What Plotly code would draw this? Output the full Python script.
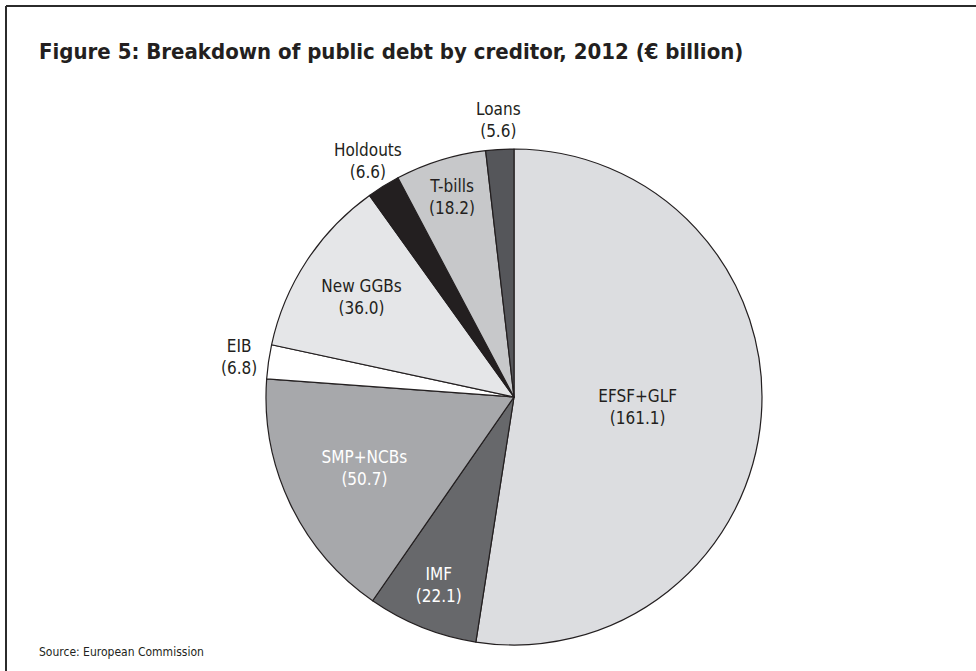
import math
import plotly.graph_objects as go

labels = ["EFSF+GLF", "IMF", "SMP+NCBs", "EIB", "New GGBs", "Holdouts", "T-bills", "Loans"]
values = [161.1, 22.1, 50.7, 6.8, 36.0, 6.6, 18.2, 5.6]
colors = ["#dcdde0", "#67686b", "#a7a8ab", "#ffffff", "#e5e6e8", "#231f20", "#c7c8ca", "#55565a"]
text_colors = ["#231f20", "#ffffff", "#ffffff", "#231f20", "#231f20", "#231f20", "#231f20", "#231f20"]
outside = [False, False, False, True, False, True, False, True]

FONT = "Liberation Sans Narrow, DejaVu Sans Condensed, Arial Narrow, sans-serif"
W, H = 976, 671
CX, CY, R = 514, 397, 248  # pie centre and radius in pixels (layout)

positions = ["none" if o else "inside" for o in outside]

fig = go.Figure(go.Pie(
    labels=labels,
    values=values,
    sort=False,
    direction="clockwise",
    rotation=0,
    marker=dict(colors=colors, line=dict(color="#231f20", width=1.2)),
    texttemplate="%{label}<br>(%{value:.1f})",
    textposition=positions,
    insidetextorientation="horizontal",
    textfont=dict(family=FONT, size=17, color=text_colors),
    hoverinfo="label+value",
    showlegend=False,
    domain=dict(x=[(CX - R) / W, (CX + R) / W], y=[1 - (CY + R) / H, 1 - (CY - R) / H]),
))

# outside labels for the thin slices, placed along each slice's mid-angle
annotations = []
total = sum(values)
cum = 0.0
for lab, val, o in zip(labels, values, outside):
    mid = (cum + val / 2) / total * 2 * math.pi
    cum += val
    if not o:
        continue
    rr = R * 1.12
    px = CX + rr * math.sin(mid)
    py = CY - rr * math.cos(mid)
    annotations.append(dict(
        text=f"{lab}<br>({val:.1f})", xref="paper", yref="paper",
        x=px / W, y=1 - py / H, xanchor="center", yanchor="middle",
        showarrow=False, font=dict(family=FONT, size=17, color="#231f20"),
    ))

annotations += [
    dict(text="<b>Figure 5: Breakdown of public debt by creditor, 2012 (€ billion)</b>",
         xref="paper", yref="paper", x=37 / W, y=1 - 52 / H, xanchor="left", yanchor="middle",
         showarrow=False, font=dict(family=FONT, size=22, color="#231f20")),
    dict(text="Source: European Commission",
         xref="paper", yref="paper", x=37 / W, y=1 - 652 / H, xanchor="left", yanchor="middle",
         showarrow=False, font=dict(family=FONT, size=12, color="#231f20")),
]

fig.update_layout(
    width=W, height=H,
    margin=dict(l=0, r=0, t=0, b=0),
    paper_bgcolor="white",
    plot_bgcolor="white",
    font=dict(family=FONT, color="#231f20"),
    uniformtext=dict(mode="show", minsize=17),
    shapes=[
        dict(type="line", xref="paper", yref="paper", x0=6 / W, x1=1, y0=1 - 6 / H, y1=1 - 6 / H,
             line=dict(color="#2b2b2b", width=2)),
        dict(type="line", xref="paper", yref="paper", x0=6 / W, x1=6 / W, y0=0, y1=1 - 6 / H,
             line=dict(color="#2b2b2b", width=2)),
    ],
    annotations=annotations,
)

fig.write_html("out.html", config={"displayModeBar": False},
               post_script="document.body.style.margin='0';document.body.style.overflow='hidden';")
